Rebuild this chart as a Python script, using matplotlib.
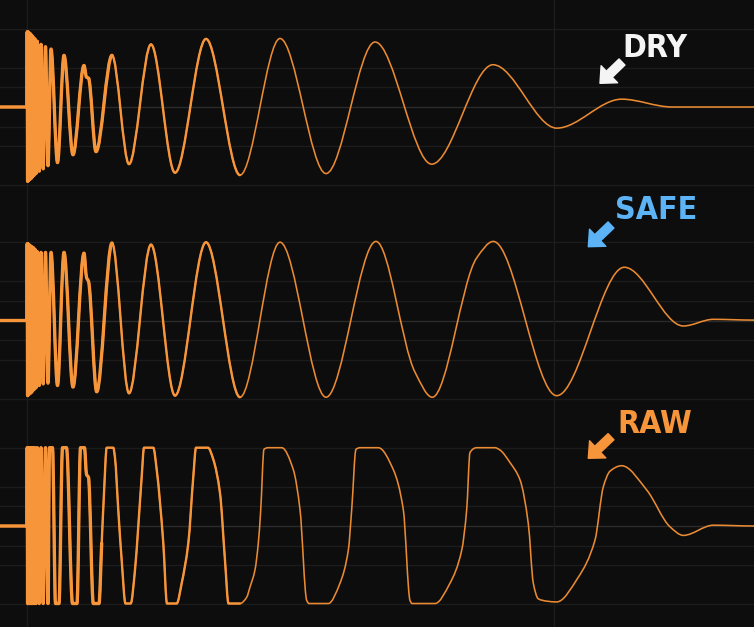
import numpy as np
import matplotlib
matplotlib.use('Agg')
import matplotlib.pyplot as plt
from matplotlib.path import Path
from matplotlib.patches import PathPatch
from matplotlib import font_manager

# --- data (time in px-ish units, amplitude in full scale) ---
burst_t = [27.2, 27.6, 28.0, 28.4, 28.8, 29.3, 29.8, 30.3, 30.8, 31.4, 32.0,
           32.7, 33.4, 34.2, 35.0, 36.0, 37.3, 39.2, 41.0, 43.2, 45.5, 48.0]
dry_burst = [0.96, -0.95, 0.96, -0.94, 0.95, -0.93, 0.94, -0.92, 0.93, -0.91, 0.91,
             -0.89, 0.89, -0.87, 0.87, -0.85, 0.84, -0.82, 0.80, -0.79, 0.77, -0.75]
safe_burst = [0.98, -0.96, 0.98, -0.95, 0.97, -0.94, 0.96, -0.93, 0.95, -0.92, 0.94,
              -0.90, 0.93, -0.88, 0.91, -0.86, 0.88, -0.83, 0.87, -0.81, 0.87, -0.80]
raw_burst = [1.0, -0.99, 1.0, -0.99, 1.0, -0.99, 1.0, -0.99, 1.0, -0.99, 1.0,
             -0.99, 1.0, -0.99, 1.0, -0.99, 1.0, -0.99, 1.0, -0.99, 1.0, -0.99]

dry_t = [51, 57.5, 64, 73, 84, 86.5, 88.5, 96, 112, 129, 151, 175, 206, 240, 280,
         326, 375, 431.7, 493, 556.7, 621.7, 672, 754]
dry_v = [0.74, -0.71, 0.66, -0.61, 0.53, 0.38, 0.37, -0.57, 0.66, -0.73, 0.80, -0.84,
         0.87, -0.87, 0.875, -0.85, 0.83, -0.73, 0.54, -0.27, 0.10, 0.0, 0.0]

safe_t = [51, 57.5, 64, 73, 84, 86.5, 88.5, 96.7, 112, 129, 151, 175, 206, 240, 280,
          326, 376, 415, 432.3, 476.7, 493.3, 556.7, 624.3, 683.3, 713.3, 754]
safe_v = [0.87, -0.83, 0.87, -0.85, 0.86, 0.55, 0.50, -0.91, 0.99, -0.93, 0.97, -0.96,
          1.0, -0.98, 1.0, -0.98, 1.01, -0.66, -0.98, 0.80, 1.01, -0.96, 0.68, -0.07,
          0.015, 0.005]

raw_t = [49.5, 52.5, 55.5, 59, 62.5, 66.5, 72.5, 77, 80.5, 84.5, 86.5, 88.5, 93.3,
         99, 101.7, 104, 106.7, 113.3, 115, 118.3, 121.7, 125.5, 130.7, 135, 138.3,
         141.7, 144, 153.3, 156.7, 163.3, 167, 176.7, 181.7, 188.3, 193.3, 196, 208,
         213.3, 220, 225, 228.5, 240, 246.7, 250, 255, 258.3, 260.7, 264, 268, 281.7,
         293.3, 300, 306.7, 309, 328.3, 340, 348.3, 351.7, 356, 360, 378.3, 393.3,
         403.3, 410, 412, 435, 450, 461.7, 466.7, 470, 476.7, 495, 500, 510, 520,
         528.3, 533.3, 538.3, 547, 556.7, 578, 595, 603.3, 610, 621.7,
         646.7, 670, 683.3, 713.3, 754]
raw_v = [1.0, 1.0, -0.99, -0.99, 1.0, 1.0, -0.99, -0.99, 1.0, 1.0, 0.66, 0.62, -0.99,
         -0.99, -0.22, 0.42, 1.0, 1.0, 0.87, 0.2, -0.44, -0.99, -0.99, -0.56, 0.0,
         0.63, 1.0, 1.0, 0.72, -0.22, -0.99, -0.99, -0.73, -0.22, 0.63, 1.0, 1.0,
         0.85, 0.42, -0.44, -0.99, -0.99, -0.91, -0.78, -0.56, -0.22, 0.2, 0.98, 1.0, 1.0,
         0.72, 0.21, -0.95, -0.99, -0.99, -0.73, -0.31, 0.21, 0.98, 1.0, 1.0, 0.72,
         0.21, -0.95, -0.99, -0.99, -0.73, -0.31, 0.21, 0.94, 1.0, 1.0, 0.97, 0.81, 0.59,
         0.03, -0.73, -0.93, -0.96, -0.97, -0.66, -0.18, 0.50, 0.70, 0.77,
         0.46, -0.01, -0.12, 0.01, 0.0]

labels = ['DRY', 'SAFE', 'RAW']
label_colors = ['#f4f4f4', '#5cb4f6']
grid_levels = [-1, -0.5, -0.25, 0.25, 0.5, 1]

BG = '#0d0d0d'
WAVE = '#f7953a'
W, H = 754, 627
SCALE = 78.3  # px per full scale


def slopes(t, v):
    h = np.diff(t)
    d = np.diff(v) / h
    m = np.zeros_like(v)
    for i in range(1, len(v) - 1):
        if d[i - 1] * d[i] > 0:
            w1 = 2 * h[i] + h[i - 1]
            w2 = h[i] + 2 * h[i - 1]
            m[i] = (w1 + w2) / (w1 / d[i - 1] + w2 / d[i])
    return m


def wave_path(t, v, m, lo, hi):
    verts = [(t[lo], v[lo])]
    codes = [Path.MOVETO]
    for i in range(lo, hi):
        h = t[i + 1] - t[i]
        verts += [(t[i] + h / 3, v[i] + m[i] * h / 3),
                  (t[i + 1] - h / 3, v[i + 1] - m[i + 1] * h / 3),
                  (t[i + 1], v[i + 1])]
        codes += [Path.CURVE4] * 3
    return Path(verts, codes)


def draw_wave(ax, t, v):
    t = np.asarray(t, float)
    v = np.asarray(v, float)
    m = slopes(t, v)
    n = len(t) - 1
    mid = int(np.searchsorted(t, 235))
    near = int(np.searchsorted(t, 100))
    for hi, lw, col in [(n, 1.15, '#ea8a32'), (mid, 1.7, WAVE), (near, 2.4, WAVE)]:
        ax.add_patch(PathPatch(wave_path(t, v, m, 0, hi), facecolor='none',
                               edgecolor=col, lw=lw, joinstyle='round', capstyle='round'))


# a narrow face if one is installed, else plain DejaVu Sans
names = {f.name for f in font_manager.fontManager.ttflist}
narrow = [n for n in ('Liberation Sans Narrow', 'DejaVu Sans Condensed') if n in names]
font = dict(family=narrow + ['DejaVu Sans'], weight='bold',
            stretch='condensed', size=26 if narrow else 23)

fig = plt.figure(figsize=(W / 100, H / 100), dpi=100, facecolor=BG)

traces = [
    ([0, 27] + burst_t + dry_t, [0, 0] + dry_burst + dry_v),
    ([0, 27] + burst_t + safe_t, [0, 0] + safe_burst + safe_v),
    ([0, 27] + burst_t + raw_t, [0, 0] + raw_burst + raw_v),
]
panels = [(0, 214, 107), (214, 427, 320.5), (427, 627, 526)]

for (top, bot, c), (t, v) in zip(panels, traces):
    ax = fig.add_axes([0, 1 - bot / H, 1, (bot - top) / H])
    ax.set_facecolor(BG)
    ax.set_xlim(0, W)
    ax.set_ylim(-(bot - c) / SCALE, (c - top) / SCALE)
    for g in grid_levels:
        ax.axhline(g, color='#1c1c1c', lw=1.0, zorder=0)
    ax.axhline(0, color='#2b2b2b', lw=1.0, zorder=0)
    for x in (27, 554):
        ax.axvline(x, color='#1c1c1c', lw=1.0, zorder=0)
    draw_wave(ax, t, v)
    ax.axis('off')

# labels and arrows on an overlay in pixel coordinates
ov = fig.add_axes([0, 0, 1, 1])
ov.set_xlim(0, W)
ov.set_ylim(H, 0)
ov.axis('off')

text_pos = [(655, 56.7), (656, 219.3), (655, 433.3)]
arrow_pos = [((622, 62), (600, 83.3)), ((611, 225), (588.3, 246.7)),
             ((611, 436.7), (588.3, 458.3))]
colors = label_colors + [WAVE]
for name, col, (tx, ty), (tail, tip) in zip(labels, colors, text_pos, arrow_pos):
    ov.text(tx, ty, name, color=col, ha='center', va='baseline', **font)
    ov.annotate('', xy=tip, xytext=tail,
                arrowprops=dict(arrowstyle='simple,head_length=0.55,head_width=1.0,tail_width=0.36',
                                color=col, shrinkA=0, shrinkB=0, mutation_scale=17))

fig.savefig('out.png', dpi=100, facecolor=BG)
